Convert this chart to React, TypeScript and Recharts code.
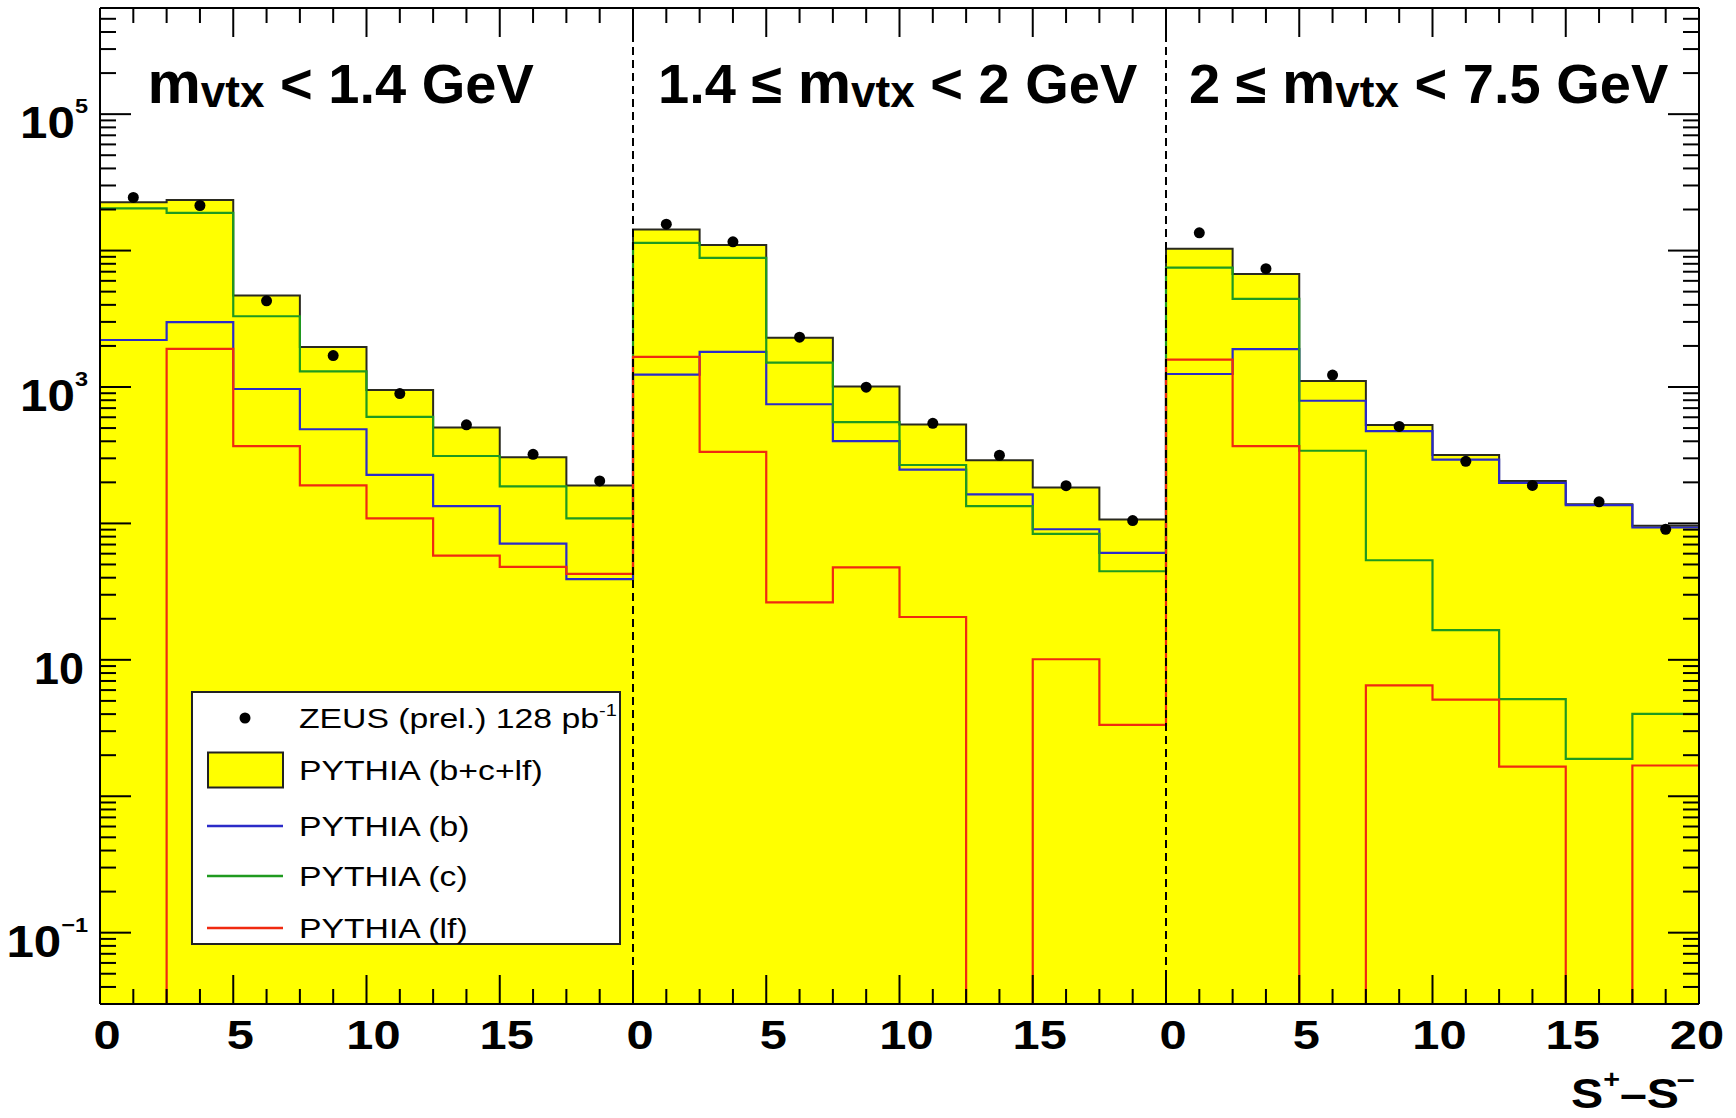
import React from 'react';
import {
  ComposedChart,
  Area,
  Line,
  Scatter,
  XAxis,
  YAxis,
  ReferenceLine,
  Legend,
  Customized,
} from 'recharts';

// ---------------- data ----------------
// 24 bins of width 2.5 in S+ - S- : three m_vtx panels of 0..20 laid side by side (0..60)
const BIN_EDGES = [0, 2.5, 5, 7.5, 10, 12.5, 15, 17.5, 20, 22.5, 25, 27.5, 30, 32.5, 35, 37.5, 40, 42.5, 45, 47.5, 50, 52.5, 55, 57.5, 60];
const BIN_CENTERS = [1.25, 3.75, 6.25, 8.75, 11.25, 13.75, 16.25, 18.75, 21.25, 23.75, 26.25, 28.75, 31.25, 33.75, 36.25, 38.75, 41.25, 43.75, 46.25, 48.75, 51.25, 53.75, 56.25, 58.75];

const ZEUS_DATA = [24500, 21400, 4280, 1700, 895, 528, 321, 205, 15600, 11600, 2320, 997, 542, 316, 189, 105, 13500, 7360, 1222, 514, 285, 190, 144, 90.6];
const PYTHIA_TOTAL = [22600, 23500, 4690, 1960, 950, 505, 306, 190, 14300, 11000, 2300, 1008, 530, 290, 183, 107, 10300, 6730, 1105, 526, 317, 205, 138, 96];
const PYTHIA_B = [2210, 2990, 967, 490, 227, 134, 71, 39, 1231, 1808, 747, 401, 248, 163, 90.6, 60.8, 1245, 1895, 793, 475, 293, 198, 136, 93.3];
const PYTHIA_C = [20400, 18900, 3300, 1300, 604, 312, 187, 109, 11400, 8830, 1510, 552, 268, 134, 83.8, 44.6, 7500, 4420, 341, 53.7, 16.5, 5.15, 1.88, 4.02];
const PYTHIA_LF = [0, 1900, 369, 190, 109, 58, 48, 42.7, 1660, 335, 26.4, 47.6, 20.6, 0, 10.1, 3.34, 1585, 369, 0, 6.5, 5.1, 1.65, 0, 1.68];

const X_TICK_LABELS = ['0', '5', '10', '15', '0', '5', '10', '15', '0', '5', '10', '15', '20'];
const Y_DECADES = [-2, -1, 0, 1, 2, 3, 4, 5];
const Y_MANTISSAS = [1, 2, 3, 4, 5, 6, 7, 8, 9];
const Y_TICK_LABELS = [
  { value: 1e5, base: '10', exp: '5' },
  { value: 1e3, base: '10', exp: '3' },
  { value: 10, base: '10', exp: '' },
  { value: 0.1, base: '10', exp: '\u22121' },
];
const PANEL_DIVIDERS = [20, 40];
const PANEL_TITLES = [
  { pre: '', sub: 'vtx', post: ' < 1.4 GeV' },
  { pre: '1.4 \u2264 ', sub: 'vtx', post: ' < 2 GeV' },
  { pre: '2 \u2264 ', sub: 'vtx', post: ' < 7.5 GeV' },
];
const LEGEND_ITEMS = [
  { kind: 'marker', label: 'ZEUS (prel.) 128 pb', sup: '-1' },
  { kind: 'box', label: 'PYTHIA (b+c+lf)', sup: '' },
  { kind: 'b', label: 'PYTHIA (b)', sup: '' },
  { kind: 'c', label: 'PYTHIA (c)', sup: '' },
  { kind: 'lf', label: 'PYTHIA (lf)', sup: '' },
];

// ---------------- layout / style ----------------
const W = 1736;
const H = 1118;
const X_MIN = 0;
const X_MAX = 60;
const Y_MIN = 0.03;
const Y_MAX = 6e5;
const X_TICK_STEP = 1.25;
const X_MAJOR_STEP = 5;
const FONT = '"Liberation Sans", Arial, Helvetica, sans-serif';
const YELLOW = '#ffff00';
const OUTLINE = '#2a2a20';
const BLUE = '#2b2bc8';
const GREEN = '#1f9a1f';
const RED = '#f02a10';
const LINE_COLORS: Record<string, string> = { b: BLUE, c: GREEN, lf: RED };
const TITLE_X = [147.5, 658, 1189];
const TITLE_BASELINE = 102.5;
const LEGEND_ROW_Y = [27, 79, 135, 185, 237];

const floorLog = (v: number) => (v > 0 ? v : Y_MIN);

const histRows = BIN_EDGES.map((x, i) => {
  const k = Math.min(i, PYTHIA_TOTAL.length - 1);
  return {
    x,
    total: floorLog(PYTHIA_TOTAL[k]),
    b: floorLog(PYTHIA_B[k]),
    c: floorLog(PYTHIA_C[k]),
    lf: floorLog(PYTHIA_LF[k]),
  };
});
const zeusRows = BIN_CENTERS.map((x, i) => ({ x, y: ZEUS_DATA[i] }));

const xTicks: number[] = [];
for (let i = 0; i * X_TICK_STEP <= X_MAX + 1e-9; i++) xTicks.push(i * X_TICK_STEP);
const yTicks: number[] = [];
Y_DECADES.forEach((d) =>
  Y_MANTISSAS.forEach((m) => {
    const v = m * Math.pow(10, d);
    if (v > Y_MIN * 1.001 && v < Y_MAX * 0.999) yTicks.push(v);
  })
);

const isMajorX = (v: number) => Math.abs(v / X_MAJOR_STEP - Math.round(v / X_MAJOR_STEP)) < 1e-6;
const isMajorY = (v: number) => {
  const m = v / Math.pow(10, Math.floor(Math.log10(v) + 1e-9));
  return Math.abs(m - 1) < 1e-6;
};

const SText = ({ x, y, sx = 1, size, weight = 'normal', anchor = 'start', children }: any) => (
  <text
    transform={`translate(${x},${y}) scale(${sx},1)`}
    x={0}
    y={0}
    fontSize={size}
    fontWeight={weight}
    textAnchor={anchor}
    fontFamily={FONT}
    fill="#000"
  >
    {children}
  </text>
);

// tick y/x given by recharts = the plot edge (tickSize = tickMargin = 0)
const BottomTick = ({ x, y, payload }: any) => {
  const v = payload.value;
  const major = isMajorX(v);
  const label = major ? X_TICK_LABELS[Math.round(v / X_MAJOR_STEP)] : null;
  const last = Math.abs(v - X_MAX) < 1e-6;
  return (
    <g>
      <line x1={x} x2={x} y1={y} y2={y - (major ? 29 : 15)} stroke="#000" strokeWidth={2} />
      {label != null && (
        <SText x={x + (last ? -2 : 7)} y={y + 45} sx={1.22} size={40} weight="bold" anchor="middle">
          {label}
        </SText>
      )}
    </g>
  );
};

const TopTick = ({ x, y, payload }: any) => {
  const major = isMajorX(payload.value);
  return <line x1={x} x2={x} y1={y} y2={y + (major ? 29 : 15)} stroke="#000" strokeWidth={2} />;
};

const LeftTick = ({ x, y, payload }: any) => {
  const v = payload.value;
  const major = isMajorY(v);
  const lab = Y_TICK_LABELS.find((t) => Math.abs(t.value - v) / t.value < 1e-6);
  return (
    <g>
      <line x1={x} x2={x + (major ? 31 : 16)} y1={y} y2={y} stroke="#000" strokeWidth={2} />
      {lab && (
        <SText
          x={x - (lab.exp ? 12 : 16)}
          y={y + 24}
          sx={lab.exp ? 1.12 : 1.02}
          size={44}
          weight="bold"
          anchor="end"
        >
          {lab.base}
          {lab.exp && (
            <tspan fontSize={21} dy={-25}>
              {lab.exp}
            </tspan>
          )}
        </SText>
      )}
    </g>
  );
};

const RightTick = ({ x, y, payload }: any) => {
  const major = isMajorY(payload.value);
  return <line x1={x} x2={x - (major ? 31 : 16)} y1={y} y2={y} stroke="#000" strokeWidth={2} />;
};

const Annotations = () => (
  <g>
    {PANEL_TITLES.map((t, i) => (
      <text key={i} x={TITLE_X[i]} y={TITLE_BASELINE} fontSize={56} fontWeight="bold" fontFamily={FONT} fill="#000">
        {t.pre}
        <tspan fontSize={60}>m</tspan>
        <tspan fontSize={44} dy={4}>
          {t.sub}
        </tspan>
        <tspan fontSize={56} dy={-4}>
          {t.post}
        </tspan>
      </text>
    ))}
    <SText x={1571} y={1108} sx={1.15} size={42} weight="bold">
      S
      <tspan fontSize={25} dy={-20}>
        +
      </tspan>
      <tspan dy={20}>{'\u2013'}S</tspan>
      <tspan fontSize={28} dx={-2} dy={-20}>
        {'\u2013'}
      </tspan>
    </SText>
  </g>
);

const LegendBox = () => (
  <svg width={431} height={255} style={{ display: 'block' }}>
    <rect x={1} y={1} width={428} height={252} fill="#fff" stroke="#222" strokeWidth={2} />
    {LEGEND_ITEMS.map((it, i) => {
      const cy = LEGEND_ROW_Y[i];
      return (
        <g key={i}>
          {it.kind === 'marker' && <circle cx={54} cy={cy} r={5.5} fill="#000" />}
          {it.kind === 'box' && (
            <rect x={17} y={cy - 17.5} width={75} height={35} fill={YELLOW} stroke="#222" strokeWidth={2} />
          )}
          {LINE_COLORS[it.kind] && (
            <line x1={16} x2={92} y1={cy} y2={cy} stroke={LINE_COLORS[it.kind]} strokeWidth={2.5} />
          )}
          <SText x={108} y={cy + 10} sx={1.25} size={27}>
            {it.label}
            {it.sup && (
              <tspan fontSize={16} dy={-12}>
                {it.sup}
              </tspan>
            )}
          </SText>
        </g>
      );
    })}
  </svg>
);

export default function App() {
  return (
    <div style={{ position: 'absolute', left: 0, top: 0, width: W, height: H, background: '#fff' }}>
      <ComposedChart width={W} height={H} data={histRows} margin={{ top: 7, right: 36, bottom: 113, left: 99 }}>
        <Area
          xAxisId="bottom"
          yAxisId="left"
          type="stepAfter"
          dataKey="total"
          stroke={OUTLINE}
          strokeWidth={2}
          fill={YELLOW}
          fillOpacity={1}
          baseValue={Y_MIN}
          dot={false}
          activeDot={false}
          isAnimationActive={false}
        />
        <Line xAxisId="bottom" yAxisId="left" type="stepAfter" dataKey="b" stroke={BLUE} strokeWidth={2.2} dot={false} activeDot={false} isAnimationActive={false} />
        <Line xAxisId="bottom" yAxisId="left" type="stepAfter" dataKey="c" stroke={GREEN} strokeWidth={2.2} dot={false} activeDot={false} isAnimationActive={false} />
        <Line xAxisId="bottom" yAxisId="left" type="stepAfter" dataKey="lf" stroke={RED} strokeWidth={2.2} dot={false} activeDot={false} isAnimationActive={false} />
        <Scatter
          xAxisId="bottom"
          yAxisId="left"
          data={zeusRows}
          dataKey="y"
          isAnimationActive={false}
          shape={(p: any) => <circle cx={p.cx} cy={p.cy} r={5.5} fill="#000" />}
        />
        {PANEL_DIVIDERS.map((d) => (
          <ReferenceLine key={d} xAxisId="bottom" yAxisId="left" x={d} stroke="#000" strokeWidth={2} strokeDasharray="8 5" />
        ))}
        <XAxis
          xAxisId="bottom"
          dataKey="x"
          type="number"
          domain={[X_MIN, X_MAX]}
          ticks={xTicks}
          interval={0}
          height={1}
          tickSize={0}
          tickMargin={0}
          tickLine={false}
          tick={<BottomTick />}
          axisLine={{ stroke: '#000', strokeWidth: 2 }}
          allowDataOverflow
        />
        <XAxis
          xAxisId="top"
          orientation="top"
          dataKey="x"
          type="number"
          domain={[X_MIN, X_MAX]}
          ticks={xTicks}
          interval={0}
          height={1}
          tickSize={0}
          tickMargin={0}
          tickLine={false}
          tick={<TopTick />}
          axisLine={{ stroke: '#000', strokeWidth: 2 }}
          allowDataOverflow
        />
        <YAxis
          yAxisId="left"
          scale="log"
          type="number"
          domain={[Y_MIN, Y_MAX]}
          ticks={yTicks}
          interval={0}
          width={1}
          tickSize={0}
          tickMargin={0}
          tickLine={false}
          tick={<LeftTick />}
          axisLine={{ stroke: '#000', strokeWidth: 2 }}
          allowDataOverflow
        />
        <YAxis
          yAxisId="right"
          orientation="right"
          scale="log"
          type="number"
          domain={[Y_MIN, Y_MAX]}
          ticks={yTicks}
          interval={0}
          width={1}
          tickSize={0}
          tickMargin={0}
          tickLine={false}
          tick={<RightTick />}
          axisLine={{ stroke: '#000', strokeWidth: 2 }}
          allowDataOverflow
        />
        <Customized component={<Annotations />} />
        <Legend
          layout="horizontal"
          verticalAlign="middle"
          align="center"
          content={() => <LegendBox />}
          wrapperStyle={{ left: 191, top: 691, width: 431, height: 255, lineHeight: 0 }}
        />
      </ComposedChart>
    </div>
  );
}
